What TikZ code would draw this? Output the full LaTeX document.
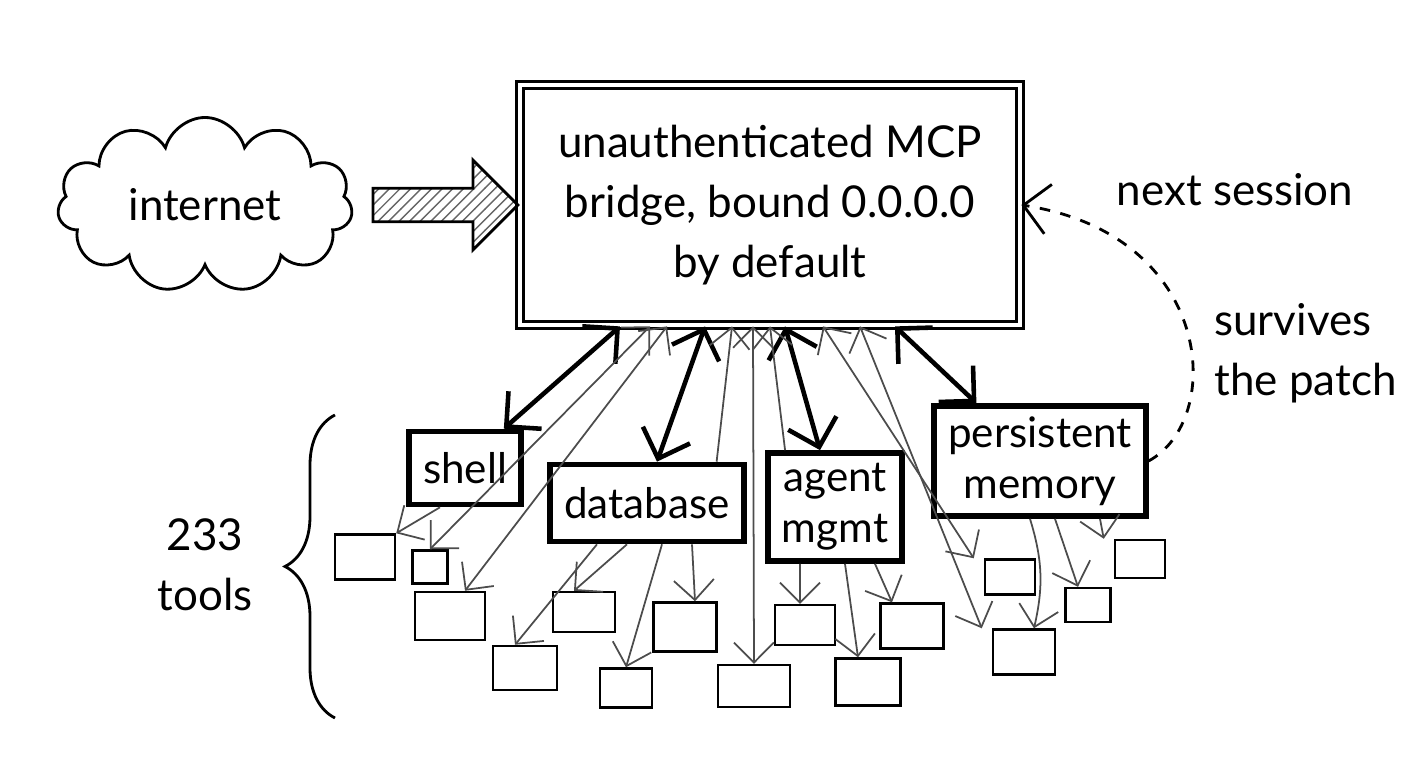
\documentclass[tikz,border=0pt]{standalone}
\usepackage{fontspec}
\setmainfont{Lato}
\usepackage{tikz}
\usetikzlibrary{arrows.meta, calc, shapes.symbols, shapes.arrows, patterns, decorations.pathreplacing}
\tikzstyle{hub}=[draw, thick, double, double distance=1.2pt, minimum width=5cm, minimum height=2.4cm, align=center]
\tikzstyle{toolgroup}=[draw, line width=1.6pt, align=center, inner xsep=4pt, inner ysep=3pt, font=\fontsize{12}{14.5}\selectfont]
\tikzstyle{tool}=[draw, line width=0.7pt]
\tikzstyle{link}=[line width=1.3pt, {Straight Barb[length=2.5mm]}-{Straight Barb[length=2.5mm]}]
\tikzstyle{call}=[gray!60!black, line width=0.5pt, -{Straight Barb[length=2mm]}]

\begin{document}
\begin{tikzpicture}[font=\fontsize{12.5}{17}\selectfont]
        \useasboundingbox (0,0) rectangle (14.08,7.68);
        % top row
        \node[hub] (bridge) at (7.70,5.63) {unauthenticated MCP\\bridge, bound 0.0.0.0\\by default};
        \node[cloud, draw, thick, cloud puffs=11, aspect=1.7, minimum width=2.95cm, minimum height=1.75cm, inner sep=0pt] (net) at (2.05,5.63) {internet};
        \node[single arrow, draw, thick, pattern=north east lines, pattern color=gray!80!black,
              minimum height=1.45cm, minimum width=0.9cm, single arrow head extend=0.22cm] (push) at (4.37,5.63) {};
        \node (nextlbl) at (12.35,5.78) {next session};
        \node[align=left, anchor=west] (survlbl) at (12.02,4.15) {survives\\the patch};

        % tool groups
        \node[toolgroup, minimum height=0.73cm] (shell) at (4.65,3.00) {shell};
        \node[toolgroup, minimum height=0.77cm] (db) at (6.47,2.65) {database};
        \node[toolgroup] (agent) at (8.35,2.61) {agent\\mgmt};
        \node[toolgroup] (pmem) at (10.40,3.07) {persistent\\memory};

        % the rest of the tools
        \foreach \n/\x/\y/\w/\h in {A/3.65/2.11/6/4.5, B/4.30/2.01/3.5/3.3, C/4.50/1.52/7/4.8,
            D/5.25/1.00/6.4/4.4, E/5.84/1.56/6.2/4.0, F/6.26/0.80/5.2/3.9, G/6.85/1.41/6.3/4.9,
            H/7.54/0.82/7.2/4.2, I/8.05/1.43/6/4, J/8.68/0.86/6.5/4.7, K/9.12/1.42/6.3/4.5,
            L/10.10/1.91/5/3.5, M/10.24/1.16/6.2/4.5, N/10.88/1.63/4.5/3.4, O/11.40/2.09/5/3.8} {
            \node[tool, minimum width=\w mm, minimum height=\h mm] (t\n) at (\x,\y) {};
        }
        \node[align=center] (count) at (2.05,2.03) {233\\tools};
        \draw[thick, decorate, decoration={brace, amplitude=5mm}] (3.35,0.50) -- (3.35,3.53);

        % bridge to groups
        \draw[link] ([xshift=-15mm]bridge.south) -- ([xshift=-2mm]shell.north east);
        \draw[link] ([xshift=-6.5mm]bridge.south) -- ([xshift=1mm]db.north);
        \draw[link] ([xshift=1.5mm]bridge.south) -- ([xshift=-1.5mm]agent.north);
        \draw[link] ([xshift=12.5mm]bridge.south) -- ([xshift=4.5mm]pmem.north west);

        % bridge straight to tools
        \draw[call, {Straight Barb[length=2mm]}-{Straight Barb[length=2mm]}] ([xshift=-12mm]bridge.south) -- (tB.north);
        \draw[call, {Straight Barb[length=2mm]}-{Straight Barb[length=2mm]}] ([xshift=-10.3mm]bridge.south) -- ([xshift=1.5mm]tC.north);
        \draw[call, {Straight Barb[length=2mm]}-] ([xshift=-3.8mm]bridge.south) -- ([xshift=-3mm]db.north east);
        \draw[call, {Straight Barb[length=2mm]}-{Straight Barb[length=2mm]}] ([xshift=-1.7mm]bridge.south) -- (tH.north);
        \draw[call, {Straight Barb[length=2mm]}-] ([xshift=0mm]bridge.south) -- ([xshift=2mm]agent.north west);
        \draw[call, {Straight Barb[length=2mm]}-{Straight Barb[length=2mm]}] ([xshift=5.3mm]bridge.south) -- ([xshift=-1mm]tL.north west);
        \draw[call, {Straight Barb[length=2mm]}-{Straight Barb[length=2mm]}] ([xshift=9mm]bridge.south) -- ([xshift=-1mm]tM.north west);

        % groups to tools
        \draw[call] ([xshift=-2.5mm]shell.south) -- (tA.north east);
        \draw[call] ([xshift=-5mm]db.south) -- ([xshift=-1mm]tD.north);
        \draw[call] ([xshift=-2mm]db.south) -- ([xshift=-1mm]tE.north);
        \draw[call] ([xshift=1.5mm]db.south) -- (tF.north);
        \draw[call] ([xshift=4.5mm]db.south) -- ([xshift=1mm]tG.north);
        \draw[call] ([xshift=-3.5mm]agent.south) -- ([xshift=-0.5mm]tI.north);
        \draw[call] ([xshift=1mm]agent.south) -- ([xshift=-1mm]tJ.north);
        \draw[call] ([xshift=4mm]agent.south) -- ([xshift=-2mm]tK.north);
        \draw[call] ([xshift=-1mm]pmem.south) to[bend left=15] ([xshift=1mm]tM.north);
        \draw[call] ([xshift=1.5mm]pmem.south) -- ([xshift=-1mm]tN.north);
        \draw[call] ([xshift=6mm]pmem.south) -- ([xshift=-1mm]tO.north west);

        % memory comes back
        \draw[thick, dashed, -{Straight Barb[length=2.5mm]}] (pmem.east) .. controls (12.25,3.48) and (12.15,5.33) .. (bridge.east);
\end{tikzpicture}
\end{document}
